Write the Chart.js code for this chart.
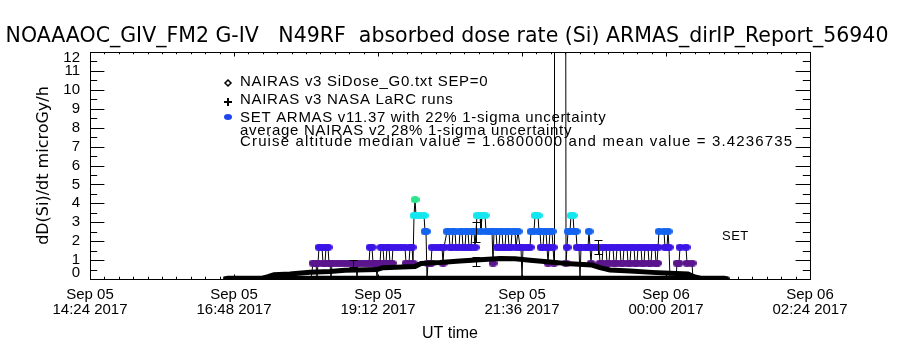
<!DOCTYPE html>
<html lang="en">
<head>
<meta charset="UTF-8" />
<title>ARMAS absorbed dose rate</title>
<script src="https://cdn.jsdelivr.net/npm/chart.js"></script>
<style>
  html, body { margin: 0; background: #ffffff; }
  #wrap { width: 900px; height: 350px; }
</style>
</head>
<body>
<div id="wrap"><canvas id="doseChart" width="900" height="350"></canvas></div>
<script>
// time axis: minutes after Sep 05 14:24 UT
const xTickLabels = [
  ['Sep 05', '14:24 2017'], ['Sep 05', '16:48 2017'], ['Sep 05', '19:12 2017'],
  ['Sep 05', '21:36 2017'], ['Sep 06', '00:00 2017'], ['Sep 06', '02:24 2017']
];
const yTickValues = [0, 1, 2, 3, 4, 5, 6, 7, 8, 9, 10, 11, 12];

// ARMAS measured dose rate (microGy/h)
const armasT = [137,145,153,161,169,177,185,193,201,209,217,221,
  223,226,227,228,229,232,233,235,236,238,239,240,241,242,246,250,254,258,262,266,267,268,272,276,279,280,282,283,285,
  286,287,288,290,291,293,294,296,297,299,300,302,303,307,311,315,316,319,320,322,323,324,325,326,330,334,335,336,337,
  338,341,342,346,350,352,353,354,357,359,360,362,363,365,366,369,370,372,373,375,376,378,379,381,382,384,385,386,387,
  390,391,392,395,396,400,402,403,404,406,407,409,410,412,413,415,416,418,419,421,422,425,426,428,430,431,432,433,437,
  440,441,444,445,448,449,450,451,453,454,456,457,458,459,460,462,463,464,464.5,475.5,476,477,478,480,481,483,484,486,
  487,489,490,491,495,498,499,500,501,502,506,509,510,512,513,516,517,519,520,523,524,526,527,530,531,533,534,537,538,
  540,541,544,545,547,548,551,552,554,555,558,559,561,562,565,566,567,568,569,574,575,577,578,579,580,584,586,587,589,
  590,596,597,602,603,611,619,627,635];
const armasV = [0,0,0,0,0,0,0,0,0,0,0,0,
  0.84,0.84,0,0.84,1.68,1.68,0.84,0.84,1.68,1.68,0.84,0.84,0,0.84,0.84,0.84,0.84,0.84,0.84,0.84,0,0.84,0.84,0.84,0.84,1.68,1.68,0.84,0.84,
  0.84,0,0.84,0.84,1.68,1.68,0.84,0.84,1.68,1.68,0.84,0.84,1.68,1.68,1.68,1.68,0.84,0.84,1.68,1.68,0.84,3.36,4.2,3.36,3.36,3.36,2.52,2.52,0,
  0.84,0.84,1.68,1.68,1.68,1.68,0.84,1.68,2.52,2.52,1.68,1.68,2.52,2.52,1.68,1.68,2.52,2.52,1.68,1.68,2.52,2.52,1.68,1.68,2.52,2.52,1.68,2.52,3.36,
  3.36,2.52,3.36,3.36,2.52,2.52,2.52,0.84,2.52,2.52,1.68,1.68,2.52,2.52,1.68,1.68,2.52,2.52,1.68,1.68,2.52,2.52,1.68,2.52,1.68,1.68,0,1.68,1.68,
  1.68,2.52,2.52,3.36,3.36,2.52,2.52,1.68,1.68,2.52,2.52,1.68,0.84,1.68,2.52,2.52,1.68,0.84,25,25,0.84,1.68,2.52,2.52,3.36,3.36,2.52,2.52,
  1.68,1.68,0,1.68,1.68,1.68,2.52,1.68,0.84,1.68,1.68,1.68,0.84,0.84,1.68,1.68,0.84,0.84,1.68,1.68,0.84,0.84,1.68,1.68,0.84,0.84,1.68,1.68,0.84,
  0.84,1.68,1.68,0.84,0.84,1.68,1.68,0.84,0.84,1.68,1.68,0.84,0.84,1.68,1.68,0.84,0.84,1.68,2.52,2.52,1.68,1.68,2.52,1.68,0,0,0,0.84,0.84,
  1.68,1.68,0.84,0.84,0,0,0,0,0];

// NAIRAS v3 model dose rate
const nairasT = [172,178,184,200,220,240,255,287,293,325,331,350,370,390,410,425,440,460,480,502,510,520,540,562,580,598,604,610];
const nairasV = [0.03,0.12,0.22,0.27,0.36,0.4,0.46,0.5,0.6,0.66,0.82,0.87,0.95,1.02,1.08,1.07,0.99,0.9,0.8,0.74,0.6,0.48,0.42,0.35,0.3,0.27,0.12,0.04];

// near-zero trace along the bottom of the flight
const baseT = [137, 635];
const baseV = [0.06, 0.06];

// 1-sigma uncertainty bars
const errT = [263, 386, 386, 508];
const errLo = [0.63, 1.96, 0.69, 1.32];
const errHi = [1.0, 3.02, 1.16, 2.06];

const levelColors = ['#000000', '#5a148c', '#3c14e6', '#1464f0', '#14e6f0', '#28e68c'];
function levelIndex(v) {
  return Math.max(0, Math.min(levelColors.length - 1, Math.round(v / 0.84)));
}
// flattened dot like the IDL symbol
const dotImages = levelColors.map(col => {
  const c = document.createElement('canvas');
  c.width = 9; c.height = 7;
  const g = c.getContext('2d');
  g.fillStyle = col;
  g.beginPath();
  g.ellipse(4.5, 3.5, 4.5, 3.5, 0, 0, Math.PI * 2);
  g.fill();
  return c;
});

const TITLE_FONT = 'DejaVu Sans';
const TEXT_FONT = 'Liberation Sans';

const idlDecor = {
  id: 'idlDecor',
  afterDatasetsDraw(chart) {
    const { ctx, chartArea: a, scales: { x, y } } = chart;
    ctx.save();
    ctx.strokeStyle = '#000';
    ctx.fillStyle = '#000';
    ctx.lineWidth = 1;
    // frame
    ctx.strokeRect(a.left + 0.5, a.top + 0.5, a.right - a.left, a.bottom - a.top);
    // y ticks, both sides, pointing inward
    const yLen = 0.02 * (a.right - a.left);
    for (let v = 0; v <= 12.001; v += 0.5) {
      const py = Math.round(y.getPixelForValue(v)) + 0.5;
      const len = Number.isInteger(v) ? yLen : yLen / 2;
      ctx.beginPath();
      ctx.moveTo(a.left, py); ctx.lineTo(a.left + len, py);
      ctx.moveTo(a.right, py); ctx.lineTo(a.right - len, py);
      ctx.stroke();
    }
    // y tick labels (end labels kept inside the axis like IDL does)
    ctx.font = '15px "' + TEXT_FONT + '"';
    ctx.textAlign = 'right';
    ctx.textBaseline = 'middle';
    yTickValues.forEach((v, i) => {
      let py = y.getPixelForValue(v);
      if (i === 0) py -= 6;
      if (i === yTickValues.length - 1) py += 6;
      ctx.fillText(String(v), a.left - 10, py);
    });
    // x ticks, top and bottom
    const xLen = 0.02 * (a.bottom - a.top);
    for (let k = 0; k <= 50; k++) {
      const px = Math.round(x.getPixelForValue(k * 14.4)) + 0.5;
      const len = k % 10 === 0 ? xLen : xLen / 2;
      ctx.beginPath();
      ctx.moveTo(px, a.bottom); ctx.lineTo(px, a.bottom - len);
      ctx.moveTo(px, a.top); ctx.lineTo(px, a.top + len);
      ctx.stroke();
    }
    // error bars
    for (let i = 0; i < errT.length; i++) {
      const px = Math.round(x.getPixelForValue(errT[i])) + 0.5;
      const y0 = Math.round(y.getPixelForValue(errLo[i])) + 0.5;
      const y1 = Math.round(y.getPixelForValue(errHi[i])) + 0.5;
      ctx.beginPath();
      ctx.moveTo(px, y0); ctx.lineTo(px, y1);
      ctx.moveTo(px - 4, y0); ctx.lineTo(px + 4, y0);
      ctx.moveTo(px - 4, y1); ctx.lineTo(px + 4, y1);
      ctx.stroke();
    }
    // title
    ctx.textAlign = 'center';
    ctx.font = '20.5px "' + TITLE_FONT + '"';
    ctx.fillText('NOAAAOC_GIV_FM2 G-IV   N49RF  absorbed dose rate (Si) ARMAS_dirIP_Report_56940', 447, 37);
    // legend
    ctx.textAlign = 'left';
    ctx.font = '15px "' + TEXT_FONT + '"';
    ctx.letterSpacing = '0.7px';
    ctx.fillText('NAIRAS v3 SiDose_G0.txt SEP=0', 240, 82);
    ctx.fillText('NAIRAS v3 NASA LaRC runs', 240, 100);
    ctx.fillText('SET ARMAS v11.37 with 22% 1-sigma uncertainty', 240, 118);
    ctx.fillText('average NAIRAS v2 28% 1-sigma uncertainty', 240, 131);
    ctx.letterSpacing = '1.15px';
    ctx.fillText('Cruise altitude median value = 1.6800000 and mean value = 3.4236735', 240, 142);
    ctx.letterSpacing = '0.5px';
    ctx.font = '13px "' + TEXT_FONT + '"';
    ctx.fillText('SET', 722, 236);
    ctx.letterSpacing = '0px';
    // legend symbols
    ctx.beginPath();
    ctx.moveTo(228, 80); ctx.lineTo(231, 83); ctx.lineTo(228, 86); ctx.lineTo(225, 83); ctx.closePath();
    ctx.lineWidth = 1.5;
    ctx.stroke();
    ctx.beginPath();
    ctx.moveTo(224, 102); ctx.lineTo(232, 102);
    ctx.moveTo(228, 98); ctx.lineTo(228, 106);
    ctx.lineWidth = 2;
    ctx.stroke();
    ctx.fillStyle = '#1e46f0';
    ctx.beginPath();
    ctx.ellipse(228, 117, 4, 3, 0, 0, Math.PI * 2);
    ctx.fill();
    ctx.restore();
  }
};

const tightClip = { left: 6, top: 0, right: 6, bottom: 0 };

new Chart(document.getElementById('doseChart'), {
  type: 'line',
  data: {
    datasets: [
      {
        label: 'NAIRAS v3 SiDose_G0.txt SEP=0',
        data: nairasT.map((t, i) => ({ x: t, y: nairasV[i] })),
        borderColor: '#000',
        borderWidth: 5,
        pointRadius: 0,
        tension: 0,
        clip: tightClip
      },
      {
        label: 'near zero',
        data: baseT.map((t, i) => ({ x: t, y: baseV[i] })),
        borderColor: '#000',
        borderWidth: 4,
        pointRadius: 0,
        clip: tightClip
      },
      {
        label: 'SET ARMAS v11.37',
        data: armasT.map((t, i) => ({ x: t, y: armasV[i] })),
        borderColor: '#000',
        borderWidth: 1,
        pointRadius: 3.5,
        pointBorderWidth: 0,
        pointStyle: c => dotImages[levelIndex(c.raw ? c.raw.y : 0)],
        tension: 0,
        clip: tightClip
      }
    ]
  },
  options: {
    responsive: false,
    animation: false,
    devicePixelRatio: 1,
    layout: { padding: { left: 0, right: 90, top: 52, bottom: 0 } },
    plugins: {
      legend: { display: false },
      tooltip: { enabled: false },
      title: { display: false }
    },
    scales: {
      x: {
        type: 'linear',
        min: 0,
        max: 720,
        afterFit: s => { s.height = 71; },
        border: { display: false },
        grid: { display: false, drawTicks: false },
        ticks: {
          stepSize: 144,
          autoSkip: false,
          maxRotation: 0,
          padding: 9,
          color: '#000',
          font: { family: TEXT_FONT, size: 15, lineHeight: 0.95 },
          callback: v => xTickLabels[Math.round(v / 144)]
        },
        title: {
          display: true,
          text: 'UT time',
          color: '#000',
          font: { family: TEXT_FONT, size: 16, lineHeight: 1.2 },
          padding: { bottom: 7 }
        }
      },
      y: {
        min: 0,
        max: 12,
        afterFit: s => { s.width = 90; },
        border: { display: false },
        grid: { display: false, drawTicks: false },
        ticks: { display: false, stepSize: 1 },
        title: {
          display: true,
          text: 'dD(Si)/dt microGy/h',
          color: '#000',
          font: { family: TITLE_FONT, size: 16, lineHeight: 1.2 },
          padding: { top: 34 }
        }
      }
    }
  },
  plugins: [idlDecor]
});
</script>
</body>
</html>
